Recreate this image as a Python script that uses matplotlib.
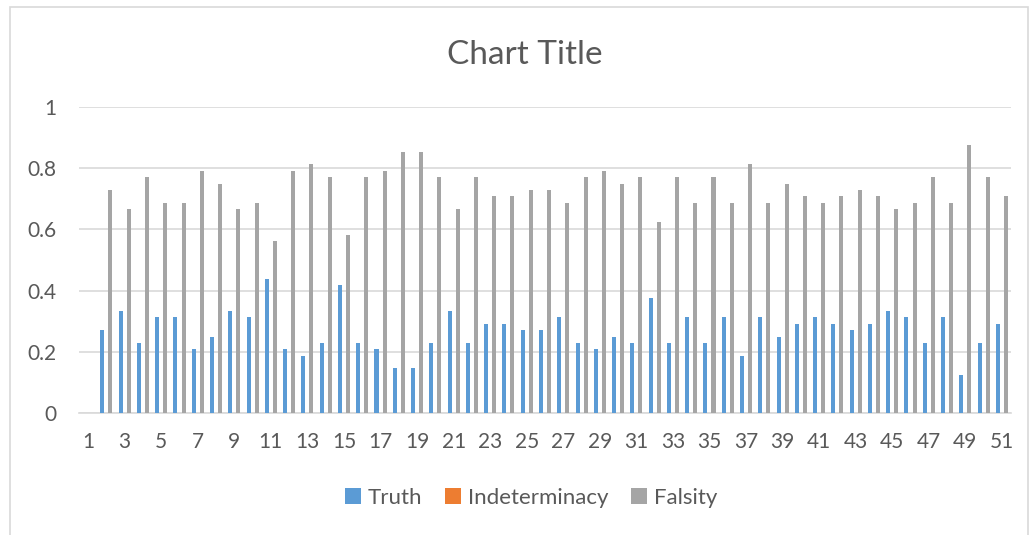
import numpy as np
import matplotlib
matplotlib.use("Agg")
import matplotlib.pyplot as plt
from matplotlib.patches import Rectangle

plt.rcParams['font.family'] = ['Lato', 'DejaVu Sans']

categories = list(range(1, 52))
# category 1 has no values
truth = [np.nan, 0.27, 0.333, 0.229, 0.3125, 0.3125, 0.208, 0.25, 0.333, 0.3125,
         0.4375, 0.208, 0.1875, 0.229, 0.417, 0.229, 0.208, 0.146, 0.146, 0.229,
         0.333, 0.229, 0.292, 0.292, 0.27, 0.27, 0.3125, 0.229, 0.208, 0.25,
         0.229, 0.375, 0.229, 0.3125, 0.229, 0.3125, 0.1875, 0.3125, 0.25, 0.292,
         0.3125, 0.292, 0.27, 0.292, 0.333, 0.3125, 0.229, 0.3125, 0.125, 0.229,
         0.292]
indeterminacy = [np.nan] + [0.0] * 50
falsity = [np.nan, 0.73, 0.667, 0.771, 0.6875, 0.6875, 0.792, 0.75, 0.667, 0.6875,
           0.5625, 0.792, 0.8125, 0.771, 0.583, 0.771, 0.792, 0.854, 0.854, 0.771,
           0.667, 0.771, 0.708, 0.708, 0.729, 0.729, 0.6875, 0.771, 0.792, 0.75,
           0.771, 0.625, 0.771, 0.6875, 0.771, 0.6875, 0.8125, 0.6875, 0.75, 0.708,
           0.6875, 0.708, 0.729, 0.708, 0.667, 0.6875, 0.771, 0.6875, 0.875, 0.771,
           0.708]

fig = plt.figure(figsize=(10.3, 5.35), dpi=100)
ax = fig.add_axes([79/1030, 1-413/535, 932/1030, 306/535])

x = np.arange(len(categories))
w = 0.22
ax.bar(x - w, truth, w, color='#5B9BD5', label='Truth', zorder=3)
ax.bar(x, indeterminacy, w, color='#ED7D31', label='Indeterminacy', zorder=3)
ax.bar(x + w, falsity, w, color='#A5A5A5', label='Falsity', zorder=3)

ax.set_xlim(-0.5, len(categories) - 0.5)
ax.set_ylim(0, 1)
ax.set_yticks([0, 0.2, 0.4, 0.6, 0.8, 1])
ax.set_yticklabels(['0', '0.2', '0.4', '0.6', '0.8', '1'])
ax.set_xticks(x[::2])
ax.set_xticklabels([str(c) for c in categories[::2]])
ax.tick_params(length=0, labelsize=15, labelcolor='#595959')
ax.tick_params(axis='x', pad=14)
ax.tick_params(axis='y', pad=16)
ax.grid(axis='y', color='#d9d9d9', linewidth=1.2, zorder=0)
for s in ['top', 'right', 'left']:
    ax.spines[s].set_visible(False)
ax.spines['bottom'].set_color('#d9d9d9')
ax.spines['bottom'].set_linewidth(1.2)

fig.text(525/1030, 1-64/535, 'Chart Title', ha='center', va='baseline', fontsize=24, color='#595959')

fig.legend(loc='center', bbox_to_anchor=(531/1030, 1-498/535), ncol=3, frameon=False,
           fontsize=16, handlelength=0.75, handleheight=0.75, handletextpad=0.3,
           columnspacing=1.0, labelcolor='#595959')

fig.patches.append(Rectangle((10/1030, -0.05), 1018/1030, 1.05 - 7/535,
                             transform=fig.transFigure, fill=False,
                             edgecolor='#d9d9d9', linewidth=1.2))

fig.savefig('out.png', dpi=100, facecolor='white')
